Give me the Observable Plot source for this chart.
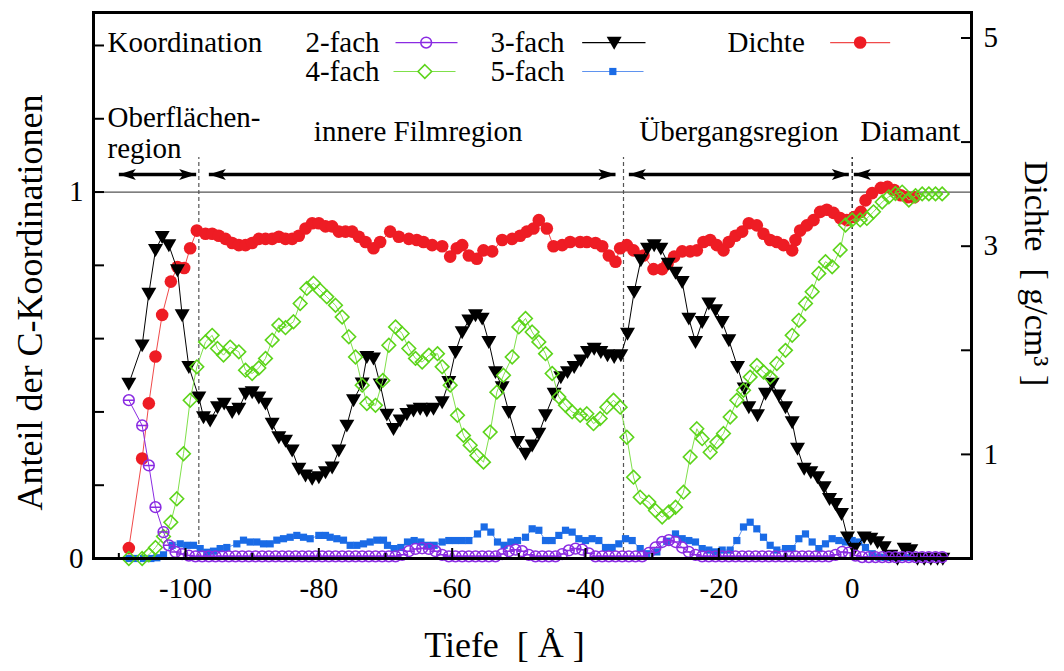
<!DOCTYPE html>
<html><head><meta charset="utf-8">
<script src="https://cdn.jsdelivr.net/npm/d3@7"></script>
<script src="https://cdn.jsdelivr.net/npm/@observablehq/plot@0.6"></script>
<style>
html,body{margin:0;padding:0;background:#fff;}
#chart svg{display:block;}
</style></head><body><div id="chart"></div>
<script>
// ---------- data (depth in Å, fraction of C coordination / density in g/cm³) ----------
const koord2 = [[-108.5,0.432],[-106.5,0.363],[-105.5,0.254],[-104.5,0.14],[-103.3,0.072],[-102.5,0.036],[-101.5,0.018],[-100.5,0.012],[-99.5,0.008],
[-98.5,0.006],[-97.5,0.006],[-96.5,0.006],[-95.5,0.006],[-94.5,0.006],[-93.5,0.006],[-92.5,0.006],[-91.5,0.006],[-90.5,0.006],[-89.5,0.006],[-88.5,0.006],[-87.5,0.006],[-86.5,0.006],[-85.5,0.006],[-84.5,0.006],[-83.5,0.006],[-82.5,0.006],[-81.5,0.006],[-80.5,0.006],[-79.5,0.006],[-78.5,0.006],[-77.5,0.006],[-76.5,0.006],[-75.5,0.006],[-74.5,0.006],[-73.5,0.006],[-72.5,0.006],[-71.5,0.006],[-70.5,0.006],[-69.5,0.006],[-68.5,0.006],
[-67.5,0.01],[-66.5,0.02],[-65.5,0.026],[-64.5,0.028],[-63.5,0.026],[-62.5,0.02],[-61.5,0.01],
[-60.5,0.006],[-59.5,0.006],[-58.5,0.006],[-57.5,0.006],[-56.5,0.006],[-55.5,0.006],[-54.5,0.006],[-53.5,0.006],
[-52.5,0.012],[-51.5,0.02],[-50.5,0.024],[-49.5,0.02],[-48.5,0.01],
[-47.5,0.006],[-46.5,0.006],[-45.5,0.006],[-44.5,0.006],
[-43.5,0.012],[-42.5,0.022],[-41.5,0.027],[-40.5,0.024],[-39.5,0.014],
[-38.5,0.006],[-37.5,0.006],[-36.5,0.006],[-35.5,0.006],[-34.5,0.006],[-33.5,0.006],[-32.5,0.006],[-31.5,0.006],
[-30.5,0.015],[-29.5,0.03],[-28.5,0.045],[-27.5,0.05],[-26.5,0.045],[-25.5,0.03],[-24.5,0.018],[-23.5,0.01],
[-22.5,0.006],[-21.5,0.006],[-20.5,0.006],[-19.5,0.006],[-18.5,0.006],[-17.5,0.006],[-16.5,0.006],[-15.5,0.006],[-14.5,0.006],[-13.5,0.006],[-12.5,0.006],[-11.5,0.006],[-10.5,0.006],[-9.5,0.006],[-8.5,0.006],[-7.5,0.006],[-6.5,0.006],[-5.5,0.006],[-4.5,0.006],[-3.5,0.006],
[-2.5,0.01],[-1.5,0.018],[-0.5,0.016],[0.5,0.008],
[1.5,0.004],[2.5,0.004],[3.5,0.004],[4.5,0.004],[5.5,0.004],[6.5,0.004],[7.5,0.004],[8.5,0.004],[9.5,0.004],[10.5,0.004],[11.5,0.004],[12.5,0.004],[13.5,0.004]];

const koord3 = [[-108.5,0.477],[-106.5,0.582],[-105.5,0.723],[-104.5,0.842],[-103.5,0.878],[-102.5,0.855],[-101.2,0.787],[-100.5,0.664],[-99.5,0.523],[-98,0.44],[-97.3,0.386],[-96.3,0.377],[-95.2,0.413],[-94.2,0.423],[-93,0.40],[-92,0.409],[-91,0.45],[-90,0.454],[-89,0.44],[-88,0.423],[-87,0.368],[-86,0.331],[-85,0.322],[-84,0.295],[-83,0.245],[-82,0.227],[-81,0.218],[-80,0.222],[-79,0.236],[-78,0.249],[-77,0.295],[-75.8,0.363],[-74.8,0.432],[-73.5,0.478],[-72.8,0.55],[-71.8,0.546],[-70.8,0.475],[-69.8,0.393],[-68.8,0.354],[-67.8,0.377],[-66.8,0.395],[-65.8,0.404],[-64.8,0.409],[-63.8,0.404],[-62.8,0.409],[-61.5,0.427],[-60.5,0.482],[-59.5,0.564],[-58.5,0.618],[-57.5,0.65],[-56.5,0.664],[-55.5,0.655],[-54.5,0.591],[-53.5,0.509],[-52.5,0.468],[-51.5,0.40],[-50.2,0.318],[-49,0.286],[-48,0.309],[-47,0.341],[-46,0.391],[-44.7,0.45],[-43.7,0.495],[-42.7,0.509],[-41.7,0.523],[-40.7,0.541],[-39.7,0.564],[-38.7,0.573],[-37.7,0.564],[-36.7,0.555],[-35.7,0.55],[-34.7,0.555],[-33.7,0.614],[-32.7,0.728],[-31.7,0.814],[-30.7,0.846],[-29.7,0.855],[-28.7,0.846],[-27.6,0.805],[-26.5,0.78],[-25.5,0.755],[-24.5,0.655],[-23.5,0.591],[-22.5,0.646],[-21.5,0.696],[-20.5,0.678],[-19.5,0.646],[-18.5,0.596],[-17.2,0.523],[-16.2,0.464],[-15.5,0.413],[-14.2,0.391],[-13,0.45],[-12,0.477],[-11,0.445],[-10,0.413],[-9,0.372],[-8.2,0.30],[-7.2,0.245],[-6.2,0.236],[-5.2,0.222],[-4.2,0.195],[-3.4,0.163],[-2.5,0.149],[-1.6,0.122],[-0.7,0.058],[0.3,0.027],[1.8,0.058],[2.8,0.054],[3.8,0.045],[4.8,0.031],[5.8,0.008],[6.8,0],[7.8,0.027],[8.8,0.023],[9.8,0],[10.8,0],[11.8,0],[12.8,0],[13.6,0]];

const koord4 = [[-108.5,0],[-106.5,0],[-105.5,0.01],[-104.5,0.03],[-103.3,0.06],[-102.2,0.099],[-101.3,0.163],[-100.3,0.286],[-99.3,0.432],[-98.3,0.523],[-97,0.591],[-96,0.609],[-95.2,0.573],[-94.3,0.555],[-93.3,0.577],[-92,0.564],[-91,0.514],[-90,0.505],[-89,0.52],[-88,0.546],[-87,0.596],[-86,0.637],[-85,0.63],[-83.8,0.646],[-82.8,0.696],[-81.8,0.737],[-80.8,0.751],[-79.8,0.732],[-78.8,0.714],[-77.5,0.691],[-76.5,0.659],[-75.5,0.605],[-74.5,0.55],[-73.5,0.473],[-72.8,0.423],[-71.5,0.418],[-70.4,0.486],[-69.5,0.582],[-68.5,0.632],[-67.5,0.614],[-66.5,0.573],[-65.5,0.546],[-64.5,0.536],[-63.5,0.555],[-62.2,0.559],[-61.5,0.523],[-60.3,0.473],[-59.2,0.391],[-58.3,0.336],[-57.3,0.309],[-56.3,0.281],[-55.3,0.263],[-54.3,0.345],[-53.3,0.454],[-52.3,0.50],[-51,0.55],[-50,0.632],[-49,0.655],[-48,0.618],[-47,0.591],[-46,0.559],[-45,0.505],[-44,0.441],[-43,0.418],[-42,0.40],[-40.8,0.391],[-39.8,0.395],[-38.8,0.368],[-37.8,0.382],[-36.8,0.413],[-35.8,0.432],[-34.8,0.413],[-33.8,0.331],[-32.8,0.222],[-31.8,0.167],[-30.5,0.154],[-29.5,0.131],[-28.5,0.113],[-27.5,0.127],[-26.5,0.14],[-25.3,0.181],[-24.3,0.277],[-23.3,0.354],[-22.5,0.327],[-21.3,0.29],[-20.3,0.318],[-19.3,0.341],[-18.3,0.386],[-17.3,0.432],[-16.3,0.459],[-15.3,0.495],[-14.3,0.527],[-13.3,0.509],[-12.3,0.495],[-11.3,0.532],[-10,0.568],[-9,0.609],[-8,0.65],[-7,0.696],[-6,0.728],[-5,0.778],[-4,0.81],[-3,0.796],[-1.8,0.842],[-1,0.91],[0,0.924],[1.2,0.924],[2.2,0.928],[3.2,0.946],[4.5,0.973],[5.5,0.987],[6.5,0.996],[7.5,1.0],[8.5,0.978],[9.5,0.99],[10.5,0.995],[11.5,0.995],[12.5,0.995],[13.5,0.995]];

const koord5 = [[-108.5,0],[-107.5,0],[-106.3,0],[-105.2,0],[-104.3,0.002],[-103.3,0.01],[-102,0.036],[-100.8,0.04],[-99.8,0.036],[-98.8,0.036],[-97.8,0.027],[-96.8,0.017],[-95.8,0.02],[-94.8,0.027],[-93.8,0.03],[-92.3,0.04],[-91.3,0.05],[-90.3,0.045],[-89.3,0.045],[-88.3,0.04],[-87.3,0.04],[-86.3,0.05],[-85.3,0.054],[-84.3,0.058],[-83.3,0.063],[-82.3,0.058],[-81.3,0.054],[-80,0.063],[-79,0.063],[-78.3,0.058],[-77.3,0.054],[-76.3,0.05],[-75.3,0.036],[-74.3,0.036],[-73.3,0.04],[-72.3,0.045],[-71.3,0.05],[-70.3,0.05],[-69.7,0.036],[-68.7,0.027],[-67.7,0.03],[-66.7,0.045],[-65.7,0.049],[-64.7,0.045],[-63.7,0.036],[-62.7,0.036],[-61.5,0.045],[-60.5,0.049],[-59.5,0.049],[-58.5,0.049],[-57.5,0.049],[-56.2,0.067],[-55.2,0.086],[-54.2,0.072],[-53.2,0.045],[-52.2,0.036],[-51.2,0.045],[-50.2,0.049],[-49,0.058],[-48,0.081],[-47,0.077],[-46,0.049],[-45,0.049],[-44,0.063],[-43,0.077],[-42,0.072],[-41,0.054],[-40,0.049],[-39,0.054],[-38,0.049],[-37,0.03],[-36,0.03],[-35,0.04],[-34,0.054],[-33,0.049],[-31.8,0.027],[-30.8,0.013],[-29.3,0.018],[-27.8,0.047],[-26.5,0.067],[-25.5,0.054],[-24.5,0.049],[-23.5,0.045],[-22.5,0.027],[-21.5,0.023],[-20.5,0.018],[-19.5,0.023],[-18.3,0.023],[-17.3,0.049],[-16.3,0.086],[-15.3,0.099],[-14.3,0.081],[-13.3,0.058],[-12.3,0.036],[-11.3,0.023],[-10,0.027],[-9,0.027],[-8,0.054],[-7,0.067],[-6,0.045],[-5,0.027],[-4,0.04],[-3,0.054],[-2,0.049],[-1,0.045],[0,0.049],[1,0.045],[2,0.03],[3,0.013],[4,0.004],[5,0.003],[6,0.003],[7,0.003],[8,0.003],[9,0.003],[10,0.003],[11,0.003],[12,0.003],[13,0.003]];

const dichte = [[-108.5,0.10],[-106.5,0.96],[-105.5,1.49],[-104.5,1.94],[-103.5,2.34],[-102.2,2.66],[-101.2,2.80],[-100.2,2.79],[-99.3,2.98],[-98.3,3.15],[-97,3.12],[-96,3.12],[-95,3.10],[-94,3.07],[-93,3.03],[-92,3.01],[-91,3.01],[-90,3.03],[-89,3.07],[-88,3.07],[-87,3.07],[-86,3.09],[-85,3.07],[-84,3.07],[-83,3.10],[-82,3.17],[-81,3.22],[-80,3.22],[-79,3.19],[-78,3.19],[-77,3.14],[-76,3.14],[-75,3.14],[-74,3.09],[-73,3.04],[-71.8,2.98],[-70.8,3.04],[-69.3,3.14],[-68,3.09],[-66.5,3.07],[-65.3,3.06],[-64.3,3.04],[-63,3.01],[-61.5,3.00],[-60.3,2.90],[-59.3,2.98],[-58.5,3.01],[-57.5,2.91],[-56.3,2.88],[-55.3,2.96],[-54,2.95],[-52.5,3.06],[-51,3.07],[-49.8,3.10],[-48.8,3.14],[-47.8,3.17],[-47,3.25],[-45.8,3.17],[-44.8,3.00],[-43.5,3.01],[-42.3,3.04],[-40.8,3.04],[-39.8,3.04],[-38.5,3.03],[-37.5,3.00],[-36.5,2.91],[-35.5,2.85],[-34.8,2.98],[-33.8,3.01],[-32.8,2.96],[-31.3,2.91],[-29.8,2.78],[-28.5,2.78],[-27.7,2.83],[-26.7,2.90],[-25.5,2.95],[-24.3,2.95],[-23.3,2.96],[-22.3,3.04],[-21.3,3.06],[-20.3,3.01],[-19.3,2.96],[-18.5,3.04],[-17.5,3.10],[-16.5,3.14],[-15.5,3.22],[-14.3,3.20],[-13.3,3.12],[-12.3,3.06],[-11.3,3.04],[-10.3,3.01],[-9,2.96],[-8.5,3.06],[-7.8,3.15],[-6.8,3.20],[-5.8,3.25],[-4.8,3.33],[-3.8,3.35],[-2.8,3.32],[-1.8,3.27],[-0.8,3.25],[0.3,3.28],[1.3,3.33],[2,3.44],[3,3.51],[4.3,3.56],[5.3,3.57],[6.3,3.54],[7.3,3.49],[8.3,3.47],[9.3,3.47]];

// region boundaries and region arrows (depth, Å)
const regionBounds = [-98, -34.3, 0];
const regionArrows = [
  {from: -110.0, to: -98.4, heads: "both"},
  {from: -96.5, to: -35.5, heads: "both"},
  {from: -33.5, to: -0.5, heads: "both"},
  {from: 0.25, to: 17.9, heads: "left"}
];
const regionNames = ["Oberflächen-", "region", "innere Filmregion", "Übergangsregion", "Diamant"];
const seriesNames = ["2-fach", "3-fach", "4-fach", "5-fach", "Dichte"];
const legendTitle = "Koordination";

const xMajor = [-100, -80, -60, -40, -20, 0];
const xMinor = [-110, -90, -70, -50, -30, -10, 10];
const yTicks = [0, 0.2, 0.4, 0.6, 0.8, 1, 1.2, 1.4];
const yLabels = [0, 1];
const rhoTicks = [1, 2, 3, 4, 5];
const rhoLabels = [1, 3, 5];
const RHO_DIAMOND = 3.52; // density that corresponds to fraction 1

// ---------- styling ----------
const FONT = '"Liberation Serif", "Times New Roman", Times, serif';
const FS = 29, FT = 36;
const RED = "#ee1c24", RED_L = "#f04a4a";
const GREEN = "#5cd41a", GREEN_L = "#7fe04a";
const BLUE = "#1a6be6", BLUE_L = "#5f93ef";
const PURPLE = "#8a2be2";

function sym(f) { return {draw(c, size) { f(c, Math.sqrt(size / Math.PI)); }}; }
const triDown = sym((c, r) => { c.moveTo(-r, -0.78 * r); c.lineTo(r, -0.78 * r); c.lineTo(0, 0.95 * r); c.closePath(); });
const diamond = sym((c, r) => { c.moveTo(0, -r); c.lineTo(r, 0); c.lineTo(0, r); c.lineTo(-r, 0); c.closePath(); });
const square = sym((c, r) => { c.moveTo(-r, -r); c.lineTo(r, -r); c.lineTo(r, r); c.lineTo(-r, r); c.closePath(); });
const thetaCircle = sym((c, r) => { c.moveTo(r, 0); c.arc(0, 0, r, 0, 2 * Math.PI); c.moveTo(-r, 0); c.lineTo(r, 0); });
const headLeft = {draw(c) { c.moveTo(0, 0); c.lineTo(17, -5.5); c.lineTo(13, 0); c.lineTo(17, 5.5); c.closePath(); }};
const headRight = {draw(c) { c.moveTo(0, 0); c.lineTo(-17, -5.5); c.lineTo(-13, 0); c.lineTo(-17, 5.5); c.closePath(); }};

const X = d => d[0], Y = d => d[1], YR = d => d[1] / RHO_DIAMOND;

// annotation rows (in data units of the left axis)
const L1 = 1.408, L2 = 1.329, ARROW_Y = 1.048, DASH_TOP = 1.094;
const txt = {fontSize: FS, fontFamily: FONT, fill: "#000", lineAnchor: "middle"};

const legendText = [
  {t: legendTitle, x: -111.7, y: L1},
  {t: seriesNames[0], x: -82.0, y: L1},
  {t: seriesNames[1], x: -54.25, y: L1},
  {t: seriesNames[4], x: -18.7, y: L1},
  {t: seriesNames[2], x: -82.0, y: L2},
  {t: seriesNames[3], x: -54.25, y: L2}
];
const legendLines = [
  {x1: -68.5, x2: -59.2, y: L1, c: PURPLE},
  {x1: -40.5, x2: -31.0, y: L1, c: "#000"},
  {x1: -3.3, x2: 5.7, y: L1, c: RED_L},
  {x1: -68.8, x2: -59.5, y: L2, c: GREEN_L},
  {x1: -40.5, x2: -31.3, y: L2, c: BLUE_L}
];

const chart = Plot.plot({
  width: 1064, height: 671,
  marginLeft: 93, marginRight: 93, marginTop: 12, marginBottom: 113,
  x: {domain: [-113.8, 17.9]},
  y: {domain: [0, 1.49]},
  style: {fontFamily: FONT, background: "#fff", overflow: "visible"},
  marks: [
    Plot.ruleY([1], {stroke: "#555", strokeWidth: 1.3}),
    Plot.ruleX(regionBounds.slice(0, 2), {y1: 0, y2: DASH_TOP, stroke: "#555", strokeWidth: 1.2, strokeDasharray: "4,3"}),
    Plot.ruleX(regionBounds.slice(2), {y1: 0, y2: DASH_TOP, stroke: "#000", strokeWidth: 1.2, strokeDasharray: "4,3"}),

    Plot.line(dichte, {x: X, y: YR, stroke: RED_L, strokeWidth: 1}),
    Plot.dot(dichte, {x: X, y: YR, r: 6.3, fill: RED}),

    Plot.line(koord5, {x: X, y: Y, stroke: BLUE_L, strokeWidth: 1}),
    Plot.dot(koord5, {x: X, y: Y, r: 3.6, symbol: square, fill: BLUE}),

    Plot.line(koord3, {x: X, y: Y, stroke: "#000", strokeWidth: 1}),
    Plot.dot(koord3, {x: X, y: Y, r: 7.5, symbol: triDown, fill: "#000"}),

    Plot.line(koord4, {x: X, y: Y, stroke: GREEN_L, strokeWidth: 1}),
    Plot.dot(koord4, {x: X, y: Y, r: 6.8, symbol: diamond, fill: "none", stroke: GREEN, strokeWidth: 1.6}),

    Plot.line(koord2, {x: X, y: Y, stroke: PURPLE, strokeWidth: 1}),
    Plot.dot(koord2, {x: X, y: Y, r: 5.4, symbol: thetaCircle, fill: "none", stroke: PURPLE, strokeWidth: 1.5}),

    // axes
    Plot.axisX(xMajor, {tickSize: -10, strokeWidth: 2, tickFormat: () => "", label: null}),
    Plot.axisX(xMinor, {tickSize: -5, strokeWidth: 2, tickFormat: () => "", label: null}),
    Plot.axisX(xMajor, {tickSize: 0, tickPadding: 19, tickFormat: d => String(d), fontSize: FS, fontFamily: FONT, label: null}),
    Plot.axisY(yTicks, {anchor: "left", tickSize: -11, strokeWidth: 2, tickFormat: () => "", label: null}),
    Plot.axisY(yLabels, {anchor: "left", tickSize: 0, tickPadding: 10, tickFormat: d => String(d), fontSize: FS, fontFamily: FONT, label: null}),
    Plot.axisY(rhoTicks.map(r => r / RHO_DIAMOND), {anchor: "right", tickSize: -11, strokeWidth: 2, tickFormat: () => "", label: null}),
    Plot.axisY(rhoLabels.map(r => r / RHO_DIAMOND), {anchor: "right", tickSize: 0, tickPadding: 12, tickFormat: v => String(Math.round(v * RHO_DIAMOND)), fontSize: FS, fontFamily: FONT, label: null}),
    Plot.frame({stroke: "#000", strokeWidth: 3}),

    // axis titles
    Plot.text(["Anteil der C-Koordinationen"], {text: d => d, frameAnchor: "left", rotate: -90, dx: -63, dy: 17, fontSize: FT, fontFamily: FONT, textAnchor: "middle", lineAnchor: "middle"}),
    Plot.text(["Dichte\u00a0\u00a0[\u00a0g/cm³\u00a0]"], {text: d => d, frameAnchor: "right", rotate: 90, dx: 64, dy: -12, fontSize: 34, fontFamily: FONT, textAnchor: "middle", lineAnchor: "middle"}),
    Plot.text(["Tiefe\u00a0\u00a0[\u00a0Å\u00a0]"], {text: d => d, frameAnchor: "bottom", dx: -28, dy: 87, fontSize: FT, fontFamily: FONT, textAnchor: "middle", lineAnchor: "middle"}),

    // region annotations
    Plot.text([regionNames[0], regionNames[1]], {text: d => d, x: [-111.7, -111.7], y: [1.202, 1.117], textAnchor: "start", ...txt}),
    Plot.text([regionNames[2], regionNames[3]], {text: d => d, x: [-65.1, -17.0], y: [1.164, 1.164], textAnchor: "middle", ...txt}),
    Plot.text([regionNames[4]], {text: d => d, x: [1.25], y: [1.164], textAnchor: "start", ...txt}),
    Plot.link(regionArrows, {x1: "from", x2: "to", y1: ARROW_Y, y2: ARROW_Y, stroke: "#000", strokeWidth: 3.5}),
    Plot.dot(regionArrows, {x: "from", y: ARROW_Y, symbol: headLeft, r: 5, fill: "#000"}),
    Plot.dot(regionArrows.filter(a => a.heads === "both"), {x: "to", y: ARROW_Y, symbol: headRight, r: 5, fill: "#000"}),

    // legend
    Plot.text(legendText, {text: "t", x: "x", y: "y", textAnchor: "start", ...txt}),
    Plot.link(legendLines, {x1: "x1", x2: "x2", y1: "y", y2: "y", stroke: "c", strokeWidth: 1.2}),
    Plot.dot([[-63.9, L1]], {x: X, y: Y, r: 5.4, symbol: thetaCircle, fill: "#fff", stroke: PURPLE, strokeWidth: 1.5}),
    Plot.dot([[-35.7, L1]], {x: X, y: Y, r: 7.5, symbol: triDown, fill: "#000"}),
    Plot.dot([[1.2, L1]], {x: X, y: Y, r: 6.3, fill: RED}),
    Plot.dot([[-64.1, L2]], {x: X, y: Y, r: 6.8, symbol: diamond, fill: "#fff", stroke: GREEN, strokeWidth: 1.6}),
    Plot.dot([[-35.9, L2]], {x: X, y: Y, r: 3.6, symbol: square, fill: BLUE})
  ]
});
document.getElementById("chart").append(chart);
</script>
</body></html>
